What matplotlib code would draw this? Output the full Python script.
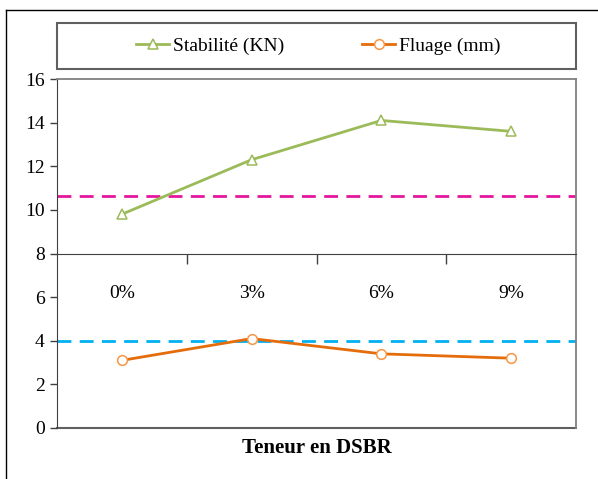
import matplotlib
matplotlib.use("Agg")
import matplotlib.pyplot as plt
from matplotlib.patches import Rectangle
from matplotlib.lines import Line2D

plt.rcParams['font.family'] = ['Liberation Serif', 'DejaVu Serif']

categories = ['0%', '3%', '6%', '9%']
stabilite = [9.8, 12.3, 14.1, 13.6]
fluage = [3.1, 4.1, 3.4, 3.2]
stabilite_seuil = 10.65
fluage_seuil = 4.0
yticks = [0, 2, 4, 6, 8, 10, 12, 14, 16]

W, H = 598, 479
fig = plt.figure(figsize=(W / 100, H / 100), dpi=100)

# outer chart frame (open on the right)
fig.add_artist(Line2D([6 / W, 6 / W], [0, (H - 10) / H], color='black', lw=1.0,
                      transform=fig.transFigure))
fig.add_artist(Line2D([6 / W, 1.0], [(H - 10) / H, (H - 10) / H], color='black', lw=1.0,
                      transform=fig.transFigure))

left, right = 57 / W, 576 / W
bottom, top = (H - 428) / H, (H - 79) / H
ax = fig.add_axes([left, bottom, right - left, top - bottom])

x = list(range(len(categories)))
green_line = '#9BBB59'
orange_line = '#E46C0A'
orange_marker = '#F79646'

ax.axhline(stabilite_seuil, color='#E5169E', lw=2, dashes=(5, 3), zorder=2)
ax.axhline(fluage_seuil, color='#00B0F0', lw=2, dashes=(5, 3), zorder=2)

ax.plot(x, stabilite, color=green_line, lw=2, marker='^', markersize=7,
        markerfacecolor='white', markeredgecolor=green_line, markeredgewidth=1.1,
        label='Stabilité (KN)', zorder=3)
ax.plot(x, fluage, color=orange_line, lw=2, marker='o', markersize=7,
        markerfacecolor='white', markeredgecolor=orange_marker, markeredgewidth=1.1,
        label='Fluage (mm)', zorder=3)

ax.set_xlim(-0.5, len(categories) - 0.5)
ax.set_ylim(0, 16)
ax.set_yticks(yticks)
ax.tick_params(axis='y', direction='out', length=5, width=1, colors='#404040',
               labelcolor='black', labelsize=14, pad=4)

# category axis crosses the value axis at 8
ax.spines['bottom'].set_position(('data', 8))
ax.spines['bottom'].set_color('#404040')
ax.set_xticks([0.5, 1.5, 2.5])
ax.set_xticklabels([])
ax.set_xticks(x, minor=True)
ax.set_xticklabels(categories, minor=True)
ax.tick_params(axis='x', which='major', direction='out', length=7, width=1, colors='#404040')
ax.tick_params(axis='x', which='minor', length=0, pad=23, labelsize=14, labelcolor='black')

for s in ('top', 'right'):
    ax.spines[s].set_color('#808080')
    ax.spines[s].set_linewidth(1.3)
ax.spines['left'].set_color('#404040')
# lower border of the plot area
ax.axhline(0, color='#606060', lw=1.5, clip_on=False, zorder=1)

fig.text((left + right) / 2, (H - 448) / H, 'Teneur en DSBR', ha='center', va='center',
         fontsize=15, fontweight='bold')

# legend box
lx0, lx1, ly0, ly1 = 57 / W, 576 / W, (H - 69) / H, (H - 23) / H
fig.add_artist(Rectangle((lx0, ly0), lx1 - lx0, ly1 - ly0, transform=fig.transFigure,
                         facecolor='white', edgecolor='#606060', lw=1.5))
leg = fig.legend(loc='center', bbox_to_anchor=((lx0 + lx1) / 2 + 2 / W, (ly0 + ly1) / 2),
                 ncol=2, fontsize=14, frameon=False, handlelength=1.7,
                 handletextpad=0.2, columnspacing=4.0, borderaxespad=0)

fig.savefig('out.png', dpi=100)
